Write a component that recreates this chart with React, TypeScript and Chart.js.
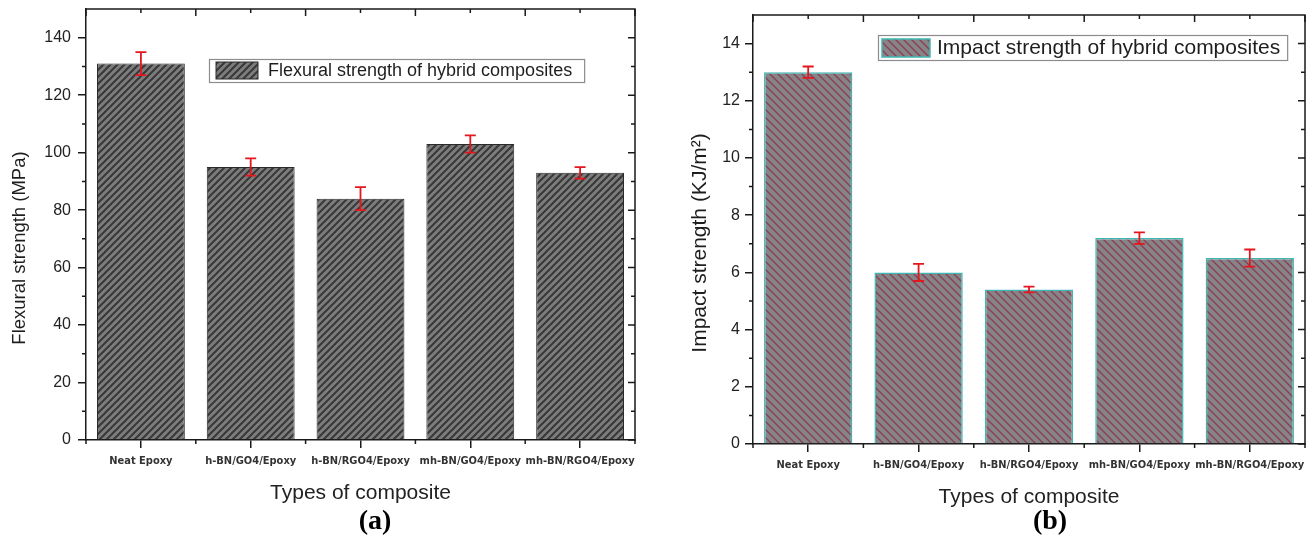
import React, { useEffect, useRef } from 'react';
import { Chart, registerables } from 'chart.js';

Chart.register(...registerables);

// ---------------- data ----------------
const CATEGORIES = ['Neat Epoxy', 'h-BN/GO4/Epoxy', 'h-BN/RGO4/Epoxy', 'mh-BN/GO4/Epoxy', 'mh-BN/RGO4/Epoxy'];
const FLEXURAL = [131, 95, 84, 103, 93];
const FLEXURAL_ERR = [4, 3, 4, 3, 2];
const IMPACT = [13.0, 6.0, 5.4, 7.2, 6.5];
const IMPACT_ERR = [0.2, 0.3, 0.1, 0.2, 0.3];
const Y_TICKS_A = [0, 20, 40, 60, 80, 100, 120, 140];
const Y_TICKS_B = [0, 2, 4, 6, 8, 10, 12, 14];
const Y_MAX_A = 150;
const Y_MAX_B = 15;

const SANS = "'Liberation Sans', Arial, sans-serif";
const NARROW = "'Liberation Sans Narrow', 'DejaVu Sans Condensed', 'Liberation Sans', sans-serif";
const SERIF = "'Liberation Serif', 'Times New Roman', serif";
const AXIS = '#1a1a1a';

function makeHatch(ctx: CanvasRenderingContext2D, bg: string, line: string, size: number, width: number, dir: string) {
  const c = document.createElement('canvas');
  c.width = size;
  c.height = size;
  const g = c.getContext('2d')!;
  g.fillStyle = bg;
  g.fillRect(0, 0, size, size);
  g.strokeStyle = line;
  g.lineWidth = width;
  g.beginPath();
  if (dir === '/') {
    for (const k of [0, size, 2 * size]) {
      g.moveTo(k + 1, -1);
      g.lineTo(k - size - 1, size + 1);
    }
  } else {
    for (const k of [-size, 0, size]) {
      g.moveTo(k - 1, -1);
      g.lineTo(k + size + 1, size + 1);
    }
  }
  g.stroke();
  return ctx.createPattern(c, 'repeat')!;
}

type PanelCfg = {
  values: number[];
  errors: number[];
  yTicks: number[];
  yMax: number;
  yTitle: string;
  yTitleSize: number;
  yTitleDx: number;
  yTitleDy: number;
  legendText: string;
  legendSize: number;
  lg: { dx: number; dy: number; h: number; swX: number; swW: number; swY: number; swH: number; textOff: number; margin: number };
  hatch: { bg: string; line: string; size: number; width: number; dir: string };
  barBorder: string;
  barBorderWidth: number;
  caption: string;
  capX: number;
  capY: number;
  padTop: number;
  padRight: number;
  yWidth: number;
  xHeight: number;
  xTitlePad: number;
  yTickPad: number;
};

function makeDecor(cfg: PanelCfg, pattern: CanvasPattern) {
  return {
    id: 'decor',
    afterDatasetsDraw(chart: any) {
      const ctx = chart.ctx as CanvasRenderingContext2D;
      const ys = chart.scales.y;
      const meta = chart.getDatasetMeta(0);
      ctx.save();
      ctx.strokeStyle = '#e5161d';
      ctx.lineWidth = 1.8;
      meta.data.forEach((bar: any, i: number) => {
        const v = cfg.values[i];
        const e = cfg.errors[i];
        const x = bar.x;
        const yt = ys.getPixelForValue(v + e);
        const yb = ys.getPixelForValue(v - e);
        ctx.beginPath();
        ctx.moveTo(x, yt);
        ctx.lineTo(x, yb);
        ctx.moveTo(x - 5.5, yt);
        ctx.lineTo(x + 5.5, yt);
        ctx.moveTo(x - 5.5, yb);
        ctx.lineTo(x + 5.5, yb);
        ctx.stroke();
      });
      ctx.restore();
    },
    afterDraw(chart: any) {
      const ctx = chart.ctx as CanvasRenderingContext2D;
      const ca = chart.chartArea;
      const xs = chart.scales.x;
      const ys = chart.scales.y;
      const n = CATEGORIES.length;
      ctx.save();
      // frame top & right
      ctx.strokeStyle = AXIS;
      ctx.lineWidth = 1.5;
      ctx.beginPath();
      ctx.moveTo(ca.left - 0.75, ca.top);
      ctx.lineTo(ca.right, ca.top);
      ctx.lineTo(ca.right, ca.bottom + 0.75);
      ctx.stroke();
      // x minor ticks / top ticks
      ctx.beginPath();
      for (let i = 0; i <= n; i++) {
        const bx = xs.getPixelForValue(i - 0.5);
        ctx.moveTo(bx, ca.bottom);
        ctx.lineTo(bx, ca.bottom + 4);
        ctx.moveTo(bx, ca.top);
        ctx.lineTo(bx, ca.top + 7);
      }
      for (let i = 0; i < n; i++) {
        const cx = xs.getPixelForValue(i);
        ctx.moveTo(cx, ca.top);
        ctx.lineTo(cx, ca.top + 4);
      }
      // y minor ticks and right ticks
      const t = cfg.yTicks;
      for (let i = 0; i < t.length; i++) {
        const py = ys.getPixelForValue(t[i]);
        ctx.moveTo(ca.right, py);
        ctx.lineTo(ca.right - 7, py);
        if (i < t.length - 1) {
          const my = ys.getPixelForValue((t[i] + t[i + 1]) / 2);
          ctx.moveTo(ca.left, my);
          ctx.lineTo(ca.left - 4, my);
          ctx.moveTo(ca.right, my);
          ctx.lineTo(ca.right - 4, my);
        }
      }
      ctx.stroke();

      // y title
      ctx.fillStyle = '#1e1e1e';
      ctx.font = `${cfg.yTitleSize}px ${SANS}`;
      ctx.textAlign = 'center';
      ctx.textBaseline = 'middle';
      ctx.translate(ca.left + cfg.yTitleDx, ca.top + cfg.yTitleDy);
      ctx.rotate(-Math.PI / 2);
      ctx.fillText(cfg.yTitle, 0, 0);
      ctx.setTransform(1, 0, 0, 1, 0, 0);

      // caption
      ctx.fillStyle = '#000';
      ctx.font = `bold 28px ${SERIF}`;
      ctx.textAlign = 'center';
      ctx.textBaseline = 'middle';
      ctx.fillText(cfg.caption, cfg.capX, cfg.capY);

      // legend
      const lg = cfg.lg;
      ctx.font = `${cfg.legendSize}px ${SANS}`;
      const tw = ctx.measureText(cfg.legendText).width;
      const bx = ca.left + lg.dx;
      const by = ca.top + lg.dy;
      const bw = lg.textOff + tw + lg.margin;
      ctx.fillStyle = '#ffffff';
      ctx.fillRect(bx, by, bw, lg.h);
      ctx.strokeStyle = '#8c8c8c';
      ctx.lineWidth = 1.2;
      ctx.strokeRect(bx + 0.5, by + 0.5, bw, lg.h);
      ctx.fillStyle = pattern;
      ctx.fillRect(bx + lg.swX, by + lg.swY, lg.swW, lg.swH);
      ctx.strokeStyle = cfg.barBorder;
      ctx.lineWidth = cfg.barBorderWidth;
      ctx.strokeRect(bx + lg.swX, by + lg.swY, lg.swW, lg.swH);
      ctx.fillStyle = '#1e1e1e';
      ctx.textAlign = 'left';
      ctx.textBaseline = 'middle';
      ctx.fillText(cfg.legendText, bx + lg.textOff, by + lg.h / 2 + 1);
      ctx.restore();
    },
  };
}

function Panel({ cfg }: { cfg: PanelCfg }) {
  const ref = useRef<HTMLCanvasElement>(null);
  useEffect(() => {
    const canvas = ref.current!;
    const ctx = canvas.getContext('2d')!;
    const h = cfg.hatch;
    const pattern = makeHatch(ctx, h.bg, h.line, h.size, h.width, h.dir);
    const chart = new Chart(ctx, {
      type: 'bar',
      data: {
        labels: CATEGORIES,
        datasets: [
          {
            label: cfg.legendText,
            data: cfg.values,
            backgroundColor: pattern as any,
            borderColor: cfg.barBorder,
            borderWidth: cfg.barBorderWidth,
            barPercentage: 0.8,
            categoryPercentage: 1,
          },
        ],
      },
      options: {
        responsive: false,
        animation: false,
        layout: { padding: { top: cfg.padTop, right: cfg.padRight, left: 0, bottom: 0 } },
        plugins: {
          legend: { display: false },
          tooltip: { enabled: false },
        },
        scales: {
          x: {
            grid: { display: true, drawOnChartArea: false, offset: false, tickLength: 8, color: AXIS, lineWidth: 1.5 },
            border: { display: true, color: AXIS, width: 1.5 },
            ticks: {
              autoSkip: false,
              maxRotation: 0,
              minRotation: 0,
              padding: 7,
              color: '#333',
              font: { family: NARROW, size: 11, weight: 'bold' },
            },
            title: {
              display: true,
              text: 'Types of composite',
              color: '#222',
              font: { family: SANS, size: 21, lineHeight: 1.1 },
              padding: { top: 0, bottom: cfg.xTitlePad },
            },
            afterFit: (s: any) => {
              s.height = cfg.xHeight;
              s.paddingLeft = 0;
              s.paddingRight = 0;
            },
          },
          y: {
            min: 0,
            max: cfg.yMax,
            afterBuildTicks: (s: any) => {
              s.ticks = cfg.yTicks.map((v) => ({ value: v }));
            },
            grid: { display: true, drawOnChartArea: false, tickLength: 8, color: AXIS, lineWidth: 1.5 },
            border: { display: true, color: AXIS, width: 1.5 },
            ticks: { padding: cfg.yTickPad, color: '#222', font: { family: SANS, size: 16 } },
            afterFit: (s: any) => {
              s.width = cfg.yWidth;
              s.paddingTop = 0;
              s.paddingBottom = 0;
            },
          },
        },
      } as any,
      plugins: [makeDecor(cfg, pattern) as any],
    });
    return () => chart.destroy();
  }, []);
  return <canvas ref={ref} width={656} height={542} style={{ display: 'block', width: 656, height: 542 }} />;
}

const PANEL_A: PanelCfg = {
  values: FLEXURAL,
  errors: FLEXURAL_ERR,
  yTicks: Y_TICKS_A,
  yMax: Y_MAX_A,
  yTitle: 'Flexural strength (MPa)',
  yTitleSize: 18.5,
  yTitleDx: -66,
  yTitleDy: 239,
  legendText: 'Flexural strength of hybrid composites',
  legendSize: 18,
  lg: { dx: 123, dy: 50, h: 23, swX: 7, swW: 42, swY: 3, swH: 17, textOff: 59, margin: 12 },
  hatch: { bg: '#7d7d7d', line: '#383838', size: 7, width: 2, dir: '/' },
  barBorder: '#2b2b2b',
  barBorderWidth: 1,
  caption: '(a)',
  capX: 375,
  capY: 522,
  padTop: 9,
  padRight: 21,
  yWidth: 86,
  xHeight: 102,
  xTitlePad: 37,
  yTickPad: 7,
};

const PANEL_B: PanelCfg = {
  values: IMPACT,
  errors: IMPACT_ERR,
  yTicks: Y_TICKS_B,
  yMax: Y_MAX_B,
  yTitle: 'Impact strength (KJ/m²)',
  yTitleSize: 21,
  yTitleDx: -53,
  yTitleDy: 228,
  legendText: 'Impact strength of hybrid composites',
  legendSize: 21,
  lg: { dx: 125, dy: 20, h: 25, swX: 4, swW: 48, swY: 4, swH: 18, textOff: 59, margin: 7 },
  hatch: { bg: '#858585', line: '#8e3d5a', size: 8, width: 1.4, dir: '\\' },
  barBorder: '#3fb8b3',
  barBorderWidth: 1.5,
  caption: '(b)',
  capX: 394,
  capY: 522,
  padTop: 15,
  padRight: 7,
  yWidth: 97,
  xHeight: 98,
  xTitlePad: 33,
  yTickPad: 5,
};

export default function App() {
  return (
    <div style={{ position: 'absolute', left: 0, top: 0, width: 1312, height: 542, display: 'flex', background: '#fff' }}>
      <Panel cfg={PANEL_A} />
      <Panel cfg={PANEL_B} />
    </div>
  );
}
